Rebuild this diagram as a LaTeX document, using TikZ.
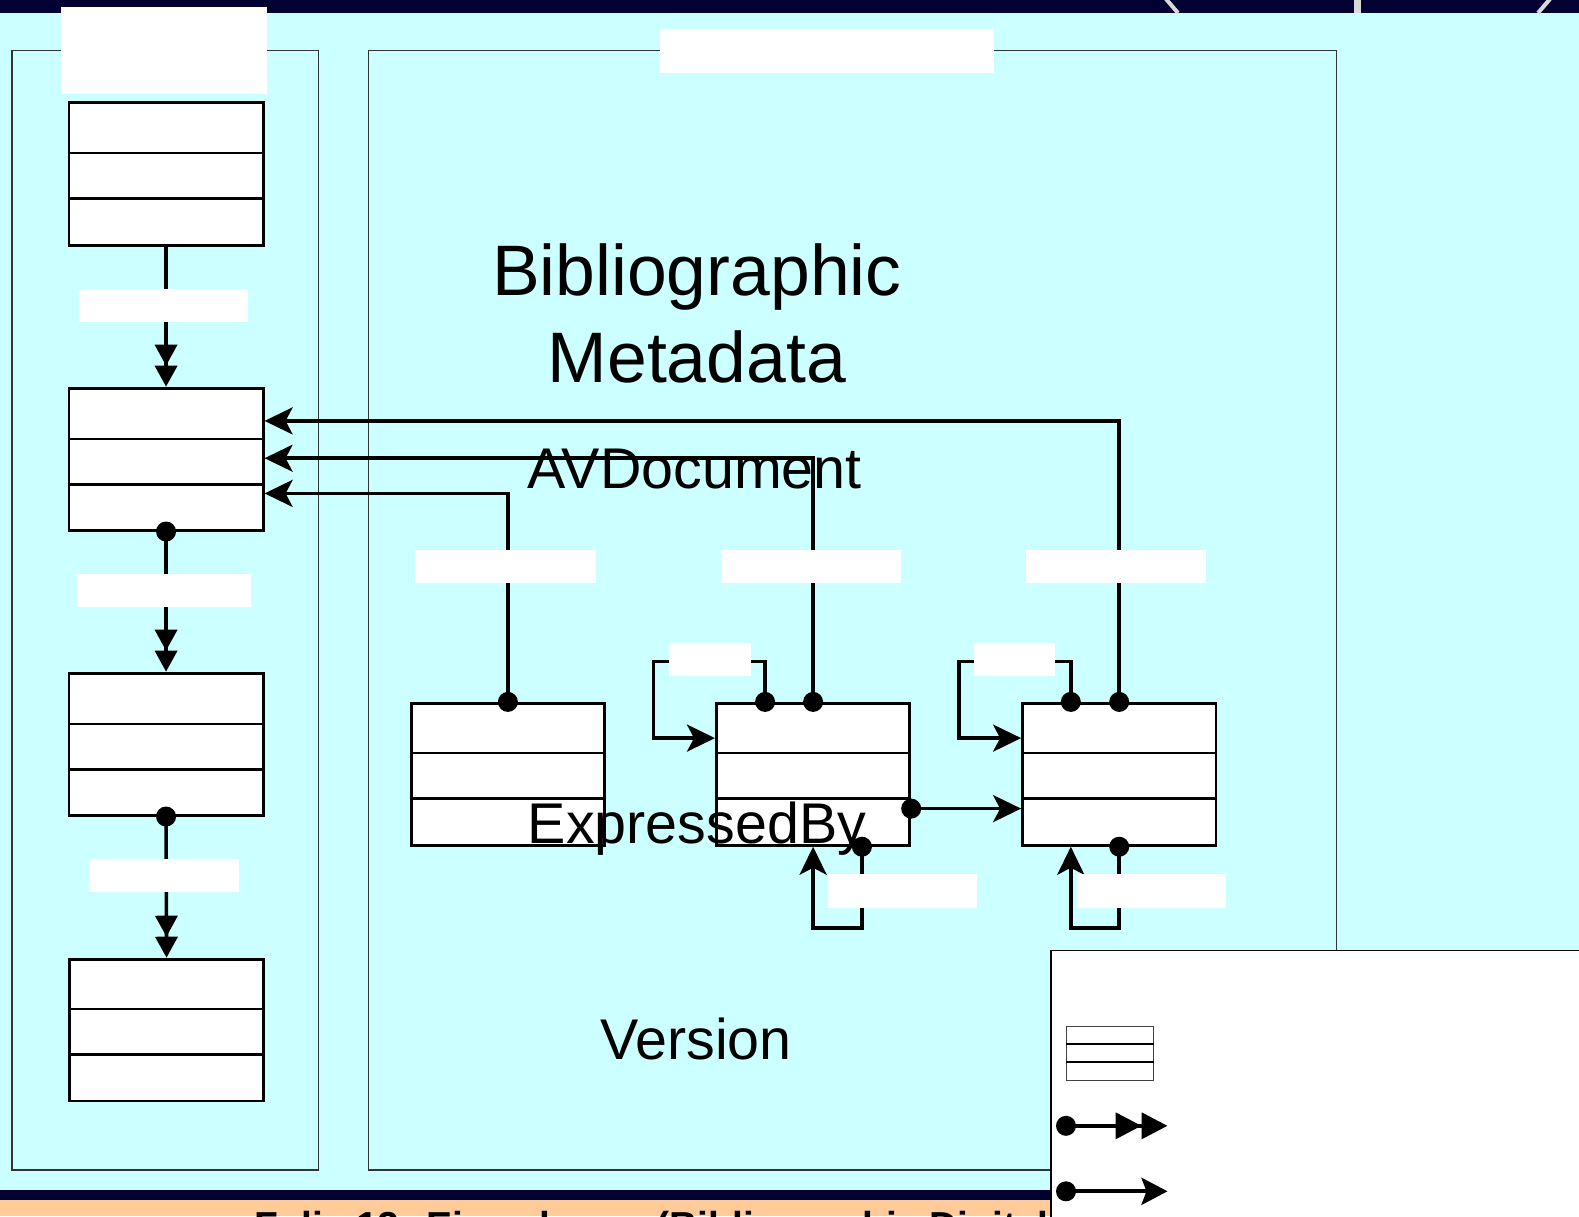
\documentclass[tikz,border=0pt]{standalone}
\usepackage{fontspec}
\setmainfont{Liberation Sans}
\usetikzlibrary{arrows.meta}

\definecolor{navy}{HTML}{000033}
\definecolor{paneBg}{HTML}{CCFFFF}
\definecolor{footerBg}{HTML}{FFCC99}
\definecolor{markGray}{HTML}{D9D9D9}

\tikzset{
  classbox/.style={draw=black, line width=2.8bp, fill=white, inner sep=0pt, anchor=north west},
  divider/.style={line width=2.4bp},
  conn/.style={line width=3.6bp},
  dbltip/.style={-{Triangle[length=21bp,width=22bp]Triangle[length=21bp,width=22bp]}},
  arr/.style={-{Stealth[length=28bp,width=27bp,inset=7bp]}},
  blank/.style={fill=white, inner sep=0pt, outer sep=0pt, anchor=north west},
  panel/.style={draw=black!80, line width=1.3bp},
  bigtext/.style={inner sep=0pt, anchor=base, font=\fontsize{57.4bp}{68bp}\selectfont},
  titletext/.style={inner sep=0pt, anchor=base, font=\fontsize{71.5bp}{86bp}\selectfont},
}

% two row separators inside a class box
\newcommand\classrows[3]{%
  \draw[divider] ([yshift=-#2bp]#1.north west) -- ([yshift=-#2bp]#1.north east);
  \draw[divider] ([yshift=-#3bp]#1.north west) -- ([yshift=-#3bp]#1.north east);}
\newcommand\dotat[1]{\fill #1 circle (10bp);}

\begin{document}
\begin{tikzpicture}[x=1bp,y=-1bp]
\useasboundingbox (0,0) rectangle (1579,1216);
\clip (0,0) rectangle (1579,1216);

% background, header and footer bands
\fill[paneBg] (0,0) rectangle (1579,1216);
\fill[navy] (0,0) rectangle (1579,13);
\draw[markGray, line width=4bp] (1166,-1) -- (1178,13);
\draw[markGray, line width=7bp] (1357,-1) -- (1357,13);
\draw[markGray, line width=4bp] (1550,-1) -- (1538,13);
\fill[navy] (0,1189.5) rectangle (1579,1200);
\fill[footerBg] (0,1200) rectangle (1579,1216);
\node[anchor=base west, inner sep=0pt, font=\bfseries\fontsize{39bp}{40bp}\selectfont] (footer)
  at (254,1239) {Folie 12: Einordnung (Bibliographic Digital Library)};

% panels
\draw[panel] (12.1,50.4) rectangle (318.2,1170.1);
\draw[panel] (368.6,50.4) rectangle (1336.3,1170.1);
\node[blank, minimum width=205.5bp, minimum height=86.7bp] (headL) at (61.4,7) {};
\node[blank, minimum width=334.3bp, minimum height=43.3bp] (headC) at (659.6,29.2) {};

% left column of classes
\node[classbox, minimum width=194.3bp, minimum height=143bp] (b1) at (67.5,100.7) {};
\node[classbox, minimum width=194.3bp, minimum height=142bp] (b2) at (67.5,386.7) {};
\node[classbox, minimum width=194.3bp, minimum height=142bp] (b3) at (67.5,671.7) {};
\node[classbox, minimum width=194.3bp, minimum height=141.9bp] (b4) at (68,957.7) {};
\classrows{b1}{52.4}{97.7}
\classrows{b2}{52.4}{97.7}
\classrows{b3}{52.4}{97.7}
\classrows{b4}{51.3}{96.6}

% classes in the metadata panel
\node[classbox, minimum width=193.4bp, minimum height=142bp] (A) at (409.8,701.9) {};
\node[classbox, minimum width=193.4bp, minimum height=142bp] (B) at (715,701.9) {};
\node[classbox, minimum width=193.4bp, minimum height=142bp] (C) at (1021.1,701.9) {};
\classrows{A}{51.3}{96.7}
\classrows{B}{51.3}{96.7}
\classrows{C}{51.3}{96.7}

% left column connectors
\draw[conn, dbltip] (b1.south) -- (b2.north);
\draw[conn, dbltip] (b2.south) -- (b3.north);
\draw[conn, dbltip] (b3.south) -- (b4.north);
\dotat{(b2.south)}
\dotat{(b3.south)}

% connectors back to the second class
\draw[conn, arr] (A.north) |- ([yshift=-106.7bp]b2.north east);
\draw[conn, arr] (B.north) |- ([yshift=-71.5bp]b2.north east);
\draw[conn, arr] (C.north) |- ([yshift=-34.2bp]b2.north east);

% self references
\draw[conn, arr] ([xshift=-48bp]B.north) |- ([xshift=-61.5bp,yshift=40.3bp]B.north west)
  |- ([yshift=-36.2bp]B.north west);
\draw[conn, arr] ([xshift=-48.4bp]C.north) |- ([xshift=-62.4bp,yshift=40.3bp]C.north west)
  |- ([yshift=-36.2bp]C.north west);
\draw[conn, arr] ([xshift=48.8bp]B.south) -- ++(0,81.5) -| (B.south);
\draw[conn, arr] (C.south) -- ++(0,81.5) -| ([xshift=-48.4bp]C.south);
\draw[conn, arr] ([yshift=-106.7bp]B.north east) -- ([yshift=-106.7bp]C.north west);

\dotat{(A.north)}
\dotat{(B.north)}
\dotat{(C.north)}
\dotat{([xshift=-48bp]B.north)}
\dotat{([xshift=-48.4bp]C.north)}
\dotat{([xshift=48.8bp]B.south)}
\dotat{(C.south)}
\dotat{([yshift=-106.7bp]B.north east)}

% label plates
\node[blank, minimum width=169.2bp, minimum height=33.2bp] (l1) at (78.5,289) {};
\node[blank, minimum width=174.2bp, minimum height=33.2bp] (l2) at (76.5,574) {};
\node[blank, minimum width=150.1bp, minimum height=33.2bp] (l3) at (88.6,859) {};
\node[blank, minimum width=181.2bp, minimum height=33.3bp] (lA) at (414.9,549.8) {};
\node[blank, minimum width=180.3bp, minimum height=33.3bp] (lB) at (721,549.8) {};
\node[blank, minimum width=180.3bp, minimum height=33.3bp] (lC) at (1026.1,549.8) {};
\node[blank, minimum width=82.6bp, minimum height=33.2bp] (lBs) at (668.6,642.5) {};
\node[blank, minimum width=81.5bp, minimum height=33.2bp] (lCs) at (973.8,642.5) {};
\node[blank, minimum width=149bp, minimum height=34.3bp] (lBb) at (827.8,874) {};
\node[blank, minimum width=149bp, minimum height=34.3bp] (lCb) at (1076.5,874) {};

% panel texts
\node[titletext] (t1) at (696.8,295) {Bibliographic};
\node[titletext] (t2) at (696.8,382.7) {Metadata};
\node[bigtext] (tAV) at (694.8,488.4) {AVDocument};
\node[bigtext] (tEx) at (697,843.9) {ExpressedBy};
\node[bigtext] (tVe) at (696,1059.4) {Version};

% legend
\fill[white] (1051,950.6) rectangle (1600,1230);
\draw[line width=1.5bp] (1051,1230) -- (1051,950.6) -- (1600,950.6);
\node[draw=black!75, line width=1.2bp, fill=white, inner sep=0pt, anchor=north west,
  minimum width=87bp, minimum height=54bp] (legbox) at (1066,1026) {};
\draw[line width=1.2bp] ([yshift=-18bp]legbox.north west) -- ([yshift=-18bp]legbox.north east);
\draw[line width=1.2bp] ([yshift=-36bp]legbox.north west) -- ([yshift=-36bp]legbox.north east);
\coordinate (la1) at (1066,1125.8);
\coordinate (la2) at (1167.5,1125.8);
\coordinate (lb1) at (1066,1191.3);
\coordinate (lb2) at (1167.5,1191.3);
\draw[line width=4bp, -{Triangle[length=26bp,width=26bp]Triangle[length=26bp,width=26bp]}] (la1) -- (la2);
\draw[line width=4bp, -{Stealth[length=26bp,width=27bp,inset=5bp]}] (lb1) -- (lb2);
\dotat{(la1)}
\dotat{(lb1)}
\end{tikzpicture}
\end{document}
